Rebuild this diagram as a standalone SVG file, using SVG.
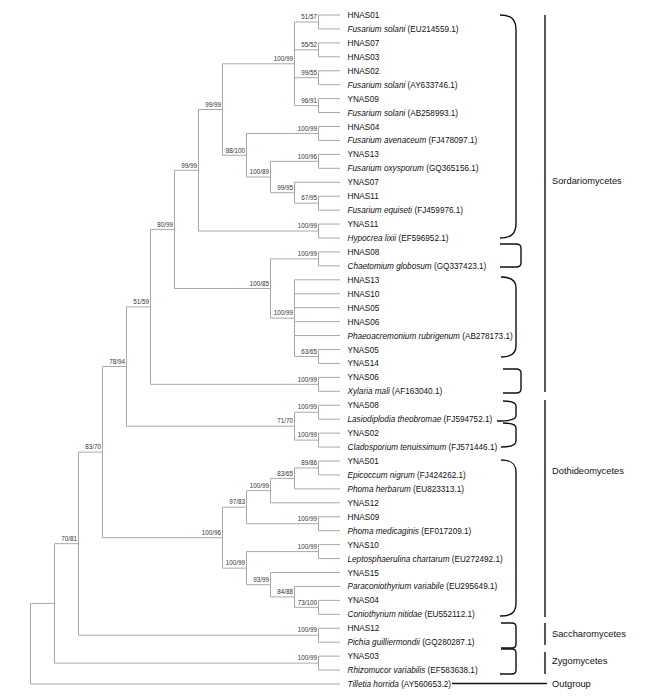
<svg xmlns="http://www.w3.org/2000/svg" width="649" height="696" viewBox="0 0 649 696">
<style>
.br{stroke:#a8a8a8;stroke-width:1;fill:none}
.bk{stroke:#111;stroke-width:1.4;fill:none}
.nl{font-family:"Liberation Sans",Arial,sans-serif;font-size:6.3px;fill:#333;text-anchor:end}
.lf{font-family:"Liberation Sans",Arial,sans-serif;font-size:8.2px;fill:#111}
.it{font-style:italic}
.gl{font-family:"Liberation Sans",Arial,sans-serif;font-size:9.3px;fill:#111}
</style>
<rect width="649" height="696" fill="#fff"/>
<g id="connectors">
<path class="br" d="M318.5 15H340M318.5 28.94H340M318.5 42.88H340M318.5 56.81H340M318.5 70.75H340M318.5 84.69H340M318.5 98.63H340M318.5 112.56H340M318.5 126.5H340M318.5 140.44H340M318.5 154.38H340M318.5 168.31H340M294.5 182.25H340M318.5 196.19H340M318.5 210.13H340M318.5 224.06H340M318.5 238H340M318.5 251.94H340M318.5 265.88H340M294.5 279.81H340M294.5 293.75H340M294.5 307.69H340M294.5 321.63H340M294.5 335.56H340M318.5 349.5H340M318.5 363.44H340M318.5 377.38H340M318.5 391.31H340M318.5 405.25H340M318.5 419.19H340M318.5 433.13H340M318.5 447.06H340M318.5 461H340M318.5 474.94H340M294.5 488.88H340M270.5 502.81H340M318.5 516.75H340M318.5 530.69H340M318.5 544.63H340M318.5 558.56H340M270.5 572.5H340M294.5 586.44H340M318.5 600.38H340M318.5 614.31H340M318.5 628.25H340M318.5 642.19H340M318.5 656.13H340M318.5 670.06H340M30.5 684H340"/>
<path class="br" d="M318.5 15V28.94M318.5 42.88V56.81M318.5 70.75V84.69M318.5 98.63V112.56M294.5 22V105.6M318.5 126.5V140.44M318.5 154.38V168.31M318.5 196.19V210.13M294.5 182.25V203.16M270.5 161.34V192.7M246.5 133.47V177.02M222.5 63.8V155.25M318.5 224.06V238M198.5 109.5V231.03M318.5 251.94V265.88M318.5 349.5V363.44M294.5 279.81V356.47M270.5 258.91V318.14M174.5 170.27V288.5M318.5 377.38V391.31M150.5 229.4V384.34M318.5 405.25V419.19M318.5 433.13V447.06M294.5 412.22V440.1M126.5 306.9V426.16M318.5 461V474.94M294.5 467.97V488.88M270.5 478.4V502.81M318.5 516.75V530.69M246.5 490.6V523.72M318.5 544.63V558.56M318.5 600.38V614.31M294.5 586.44V607.34M270.5 572.5V596.9M246.5 551.6V584.7M222.5 507.2V568.15M102.5 366.5V537.7M318.5 628.25V642.19M78.5 452.1V635.22M318.5 656.13V670.06M54.5 543.66V663.1M30.5 603.38V684"/>
<path class="br" d="M294.5 22H318.5M294.5 49.84H318.5M294.5 77.72H318.5M294.5 105.6H318.5M222.5 63.8H294.5M246.5 133.47H318.5M270.5 161.34H318.5M294.5 203.16H318.5M270.5 192.7H294.5M246.5 177.02H270.5M222.5 155.25H246.5M198.5 109.5H222.5M198.5 231.03H318.5M174.5 170.27H198.5M270.5 258.91H318.5M294.5 356.47H318.5M270.5 318.14H294.5M174.5 288.5H270.5M150.5 229.4H174.5M150.5 384.34H318.5M126.5 306.9H150.5M294.5 412.22H318.5M294.5 440.1H318.5M126.5 426.16H294.5M102.5 366.5H126.5M294.5 467.97H318.5M270.5 478.4H294.5M246.5 490.6H270.5M246.5 523.72H318.5M222.5 507.2H246.5M246.5 551.6H318.5M294.5 607.34H318.5M270.5 596.9H294.5M246.5 584.7H270.5M222.5 568.15H246.5M102.5 537.7H222.5M78.5 452.1H102.5M78.5 635.22H318.5M54.5 543.66H78.5M54.5 663.1H318.5M30.5 603.38H54.5"/>
</g>
<g id="support-values">
<text class="nl" x="317" y="19.2">51/57</text>
<text class="nl" x="317" y="47">55/52</text>
<text class="nl" x="317" y="74.9">99/55</text>
<text class="nl" x="317" y="102.8">96/91</text>
<text class="nl" x="293" y="61">100/99</text>
<text class="nl" x="317" y="130.7">100/99</text>
<text class="nl" x="317" y="158.5">100/96</text>
<text class="nl" x="317" y="200.4">67/95</text>
<text class="nl" x="293" y="189.9">99/95</text>
<text class="nl" x="269" y="174.2">100/89</text>
<text class="nl" x="245" y="152.5">88/100</text>
<text class="nl" x="221" y="106.7">99/99</text>
<text class="nl" x="317" y="228.2">100/99</text>
<text class="nl" x="197" y="167.5">99/99</text>
<text class="nl" x="317" y="256.1">100/99</text>
<text class="nl" x="317" y="353.7">63/65</text>
<text class="nl" x="293" y="315.3">100/99</text>
<text class="nl" x="269" y="285.7">100/85</text>
<text class="nl" x="173" y="226.6">80/99</text>
<text class="nl" x="317" y="381.5">100/99</text>
<text class="nl" x="149" y="304.1">51/59</text>
<text class="nl" x="317" y="409.4">100/99</text>
<text class="nl" x="317" y="437.3">100/99</text>
<text class="nl" x="293" y="423.4">71/70</text>
<text class="nl" x="125" y="363.7">78/94</text>
<text class="nl" x="317" y="465.2">89/86</text>
<text class="nl" x="293" y="475.6">83/65</text>
<text class="nl" x="269" y="487.8">100/99</text>
<text class="nl" x="317" y="520.9">100/99</text>
<text class="nl" x="245" y="504.4">97/83</text>
<text class="nl" x="317" y="548.8">100/99</text>
<text class="nl" x="317" y="604.5">73/100</text>
<text class="nl" x="293" y="594.1">84/88</text>
<text class="nl" x="269" y="581.9">93/99</text>
<text class="nl" x="245" y="565.3">100/99</text>
<text class="nl" x="221" y="534.9">100/96</text>
<text class="nl" x="101" y="449.3">83/70</text>
<text class="nl" x="317" y="632.4">100/99</text>
<text class="nl" x="77" y="540.9">70/81</text>
<text class="nl" x="317" y="660.3">100/99</text>
</g>
<g id="taxa" class="lf">
<g id="t00"><text x="347.5" y="18">HNAS01</text></g>
<g id="t01"><text x="347.5" y="31.94"><tspan class="it">Fusarium solani</tspan> (EU214559.1)</text></g>
<g id="t02"><text x="347.5" y="45.88">HNAS07</text></g>
<g id="t03"><text x="347.5" y="59.81">HNAS03</text></g>
<g id="t04"><text x="347.5" y="73.75">HNAS02</text></g>
<g id="t05"><text x="347.5" y="87.69"><tspan class="it">Fusarium solani</tspan> (AY633746.1)</text></g>
<g id="t06"><text x="347.5" y="101.63">YNAS09</text></g>
<g id="t07"><text x="347.5" y="115.56"><tspan class="it">Fusarium solani</tspan> (AB258993.1)</text></g>
<g id="t08"><text x="347.5" y="129.5">HNAS04</text></g>
<g id="t09"><text x="347.5" y="143.44"><tspan class="it">Fusarium avenaceum</tspan> (FJ478097.1)</text></g>
<g id="t10"><text x="347.5" y="157.38">YNAS13</text></g>
<g id="t11"><text x="347.5" y="171.31"><tspan class="it">Fusarium oxysporum</tspan> (GQ365156.1)</text></g>
<g id="t12"><text x="347.5" y="185.25">YNAS07</text></g>
<g id="t13"><text x="347.5" y="199.19">HNAS11</text></g>
<g id="t14"><text x="347.5" y="213.13"><tspan class="it">Fusarium equiseti</tspan> (FJ459976.1)</text></g>
<g id="t15"><text x="347.5" y="227.06">YNAS11</text></g>
<g id="t16"><text x="347.5" y="241"><tspan class="it">Hypocrea lixii</tspan> (EF596952.1)</text></g>
<g id="t17"><text x="347.5" y="254.94">HNAS08</text></g>
<g id="t18"><text x="347.5" y="268.88"><tspan class="it">Chaetomium globosum</tspan> (GQ337423.1)</text></g>
<g id="t19"><text x="347.5" y="282.81">HNAS13</text></g>
<g id="t20"><text x="347.5" y="296.75">HNAS10</text></g>
<g id="t21"><text x="347.5" y="310.69">HNAS05</text></g>
<g id="t22"><text x="347.5" y="324.63">HNAS06</text></g>
<g id="t23"><text x="347.5" y="338.56"><tspan class="it">Phaeoacremonium rubrigenum</tspan> (AB278173.1)</text></g>
<g id="t24"><text x="347.5" y="352.5">YNAS05</text></g>
<g id="t25"><text x="347.5" y="366.44">YNAS14</text></g>
<g id="t26"><text x="347.5" y="380.38">YNAS06</text></g>
<g id="t27"><text x="347.5" y="394.31"><tspan class="it">Xylaria mali</tspan> (AF163040.1)</text></g>
<g id="t28"><text x="347.5" y="408.25">YNAS08</text></g>
<g id="t29"><text x="347.5" y="422.19"><tspan class="it">Lasiodiplodia theobromae</tspan> (FJ594752.1)</text></g>
<g id="t30"><text x="347.5" y="436.13">YNAS02</text></g>
<g id="t31"><text x="347.5" y="450.06"><tspan class="it">Cladosporium tenuissimum</tspan> (FJ571446.1)</text></g>
<g id="t32"><text x="347.5" y="464">YNAS01</text></g>
<g id="t33"><text x="347.5" y="477.94"><tspan class="it">Epicoccum nigrum</tspan> (FJ424262.1)</text></g>
<g id="t34"><text x="347.5" y="491.88"><tspan class="it">Phoma herbarum</tspan> (EU823313.1)</text></g>
<g id="t35"><text x="347.5" y="505.81">YNAS12</text></g>
<g id="t36"><text x="347.5" y="519.75">HNAS09</text></g>
<g id="t37"><text x="347.5" y="533.69"><tspan class="it">Phoma medicaginis</tspan> (EF017209.1)</text></g>
<g id="t38"><text x="347.5" y="547.63">YNAS10</text></g>
<g id="t39"><text x="347.5" y="561.56"><tspan class="it">Leptosphaerulina chartarum</tspan> (EU272492.1)</text></g>
<g id="t40"><text x="347.5" y="575.5">YNAS15</text></g>
<g id="t41"><text x="347.5" y="589.44"><tspan class="it">Paraconiothyrium variabile</tspan> (EU295649.1)</text></g>
<g id="t42"><text x="347.5" y="603.38">YNAS04</text></g>
<g id="t43"><text x="347.5" y="617.31"><tspan class="it">Coniothyrium nitidae</tspan> (EU552112.1)</text></g>
<g id="t44"><text x="347.5" y="631.25">HNAS12</text></g>
<g id="t45"><text x="347.5" y="645.19"><tspan class="it">Pichia guilliermondii</tspan> (GQ280287.1)</text></g>
<g id="t46"><text x="347.5" y="659.13">YNAS03</text></g>
<g id="t47"><text x="347.5" y="673.06"><tspan class="it">Rhizomucor variabilis</tspan> (EF583638.1)</text></g>
<g id="t48"><text x="347.5" y="687"><tspan class="it">Tilletia horrida</tspan> (AY560653.2)</text></g>
</g>
<g id="brackets">
<path class="bk" d="M500 15C512 15 516 20 516 30V223C516 233 512 238 500 238"/>
<path class="bk" d="M500 244H516Q521 244 521 248V263Q521 267 516 267H500"/>
<path class="bk" d="M501 277C511 277 516 281 516 288V346C516 353 511 357 501 357"/>
<path class="bk" d="M503 369H516Q521 369 521 373V389Q521 393 516 393H503"/>
<path class="bk" d="M503 401Q516 401 516 406V416Q516 421 497 421"/>
<path class="bk" d="M503 423Q516 423 516 428V441Q516 447 501 447"/>
<path class="bk" d="M501 460C512 460 516 464 516 472V603C516 612 512 616 500 616"/>
<path class="bk" d="M501 623H512Q516 623 516 627V644Q516 648 512 648H501"/>
<path class="bk" d="M501 649H512Q516 649 516 653V670Q516 674 512 674H500"/>
</g>
<g id="groups">
<g id="g-sordario"><path class="bk" d="M545 15V392"/><text class="gl" x="552" y="183.5">Sordariomycetes</text></g>
<g id="g-dothideo"><path class="bk" d="M545 400V617"/><text class="gl" x="552" y="473.5">Dothideomycetes</text></g>
<g id="g-saccharo"><path class="bk" d="M545 623V645"/><text class="gl" x="552" y="636.5">Saccharomycetes</text></g>
<g id="g-zygo"><path class="bk" d="M545 652V674"/><text class="gl" x="552" y="664">Zygomycetes</text></g>
<g id="g-outgroup"><path class="bk" d="M452 683.5H547"/><text class="gl" x="552" y="686.5">Outgroup</text></g>
</g>
</svg>
